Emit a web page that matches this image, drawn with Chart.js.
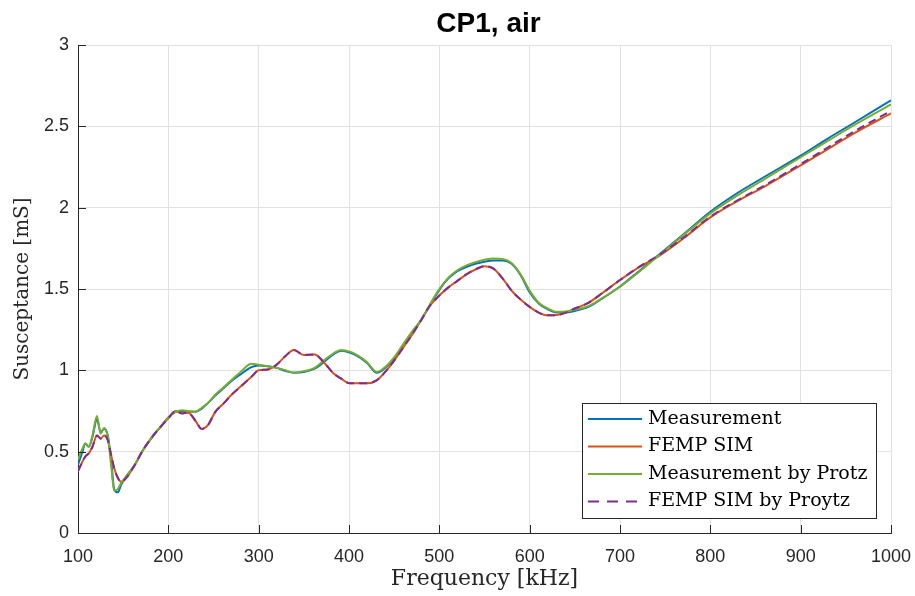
<!DOCTYPE html>
<html>
<head>
<meta charset="utf-8">
<title>CP1, air</title>
<script src="https://cdn.jsdelivr.net/npm/chart.js@4.4.1/dist/chart.umd.min.js"></script>
<style>
  html, body { margin: 0; padding: 0; background: #fff; }
  #wrap { width: 915px; height: 596px; }
</style>
</head>
<body>
<div id="wrap"><canvas id="cp1Chart" width="915" height="596"></canvas></div>
<script>
// frequency grid in kHz, shared by all four curves
const freqKHz = [100, 105, 108, 112, 116, 121, 125, 129, 133, 137,
  140, 144, 148, 155, 163, 172, 182, 191, 200, 208,
  215, 222, 230, 237, 244, 252, 260, 270, 280, 292,
  300, 310, 320, 330, 339, 350, 362, 372, 383, 391,
  401, 410, 420, 431, 440, 450, 460, 470, 480, 490,
  500, 510, 520, 530, 540, 550, 560, 570, 580, 590,
  600, 610, 620, 630, 640, 650, 665, 680, 700, 720,
  745, 770, 800, 830, 860, 900, 930, 960, 1000];

// susceptance in mS
const measurement = [0.42, 0.50, 0.55, 0.53, 0.59, 0.70, 0.62, 0.64, 0.60, 0.43,
  0.27, 0.25, 0.30, 0.36, 0.42, 0.51, 0.59, 0.65, 0.71, 0.745,
  0.75, 0.745, 0.745, 0.765, 0.80, 0.845, 0.885, 0.935, 0.975, 1.02,
  1.03, 1.025, 1.015, 0.995, 0.985, 0.99, 1.01, 1.05, 1.10, 1.12,
  1.11, 1.085, 1.045, 0.985, 1.015, 1.075, 1.155, 1.235, 1.31, 1.405,
  1.495, 1.565, 1.61, 1.635, 1.655, 1.668, 1.675, 1.675, 1.655, 1.585,
  1.48, 1.41, 1.375, 1.355, 1.355, 1.365, 1.39, 1.44, 1.515, 1.605,
  1.72, 1.835, 1.975, 2.09, 2.19, 2.32, 2.425, 2.525, 2.66];

const femSim = [0.38, 0.44, 0.47, 0.49, 0.53, 0.60, 0.58, 0.60, 0.57, 0.47,
  0.40, 0.34, 0.315, 0.35, 0.42, 0.51, 0.59, 0.65, 0.705, 0.75,
  0.735, 0.74, 0.69, 0.64, 0.665, 0.745, 0.79, 0.85, 0.90, 0.96,
  1.00, 1.005, 1.035, 1.09, 1.125, 1.095, 1.098, 1.05, 0.98, 0.95,
  0.92, 0.92, 0.92, 0.94, 0.99, 1.06, 1.14, 1.22, 1.31, 1.40,
  1.46, 1.51, 1.55, 1.59, 1.62, 1.64, 1.625, 1.565, 1.49, 1.435,
  1.39, 1.355, 1.338, 1.34, 1.355, 1.38, 1.415, 1.473, 1.555, 1.63,
  1.71, 1.81, 1.94, 2.04, 2.13, 2.26, 2.36, 2.46, 2.58];

const protzMeasurement = [0.45, 0.52, 0.55, 0.53, 0.60, 0.72, 0.61, 0.645, 0.59, 0.40,
  0.26, 0.27, 0.31, 0.36, 0.42, 0.51, 0.59, 0.65, 0.71, 0.745,
  0.755, 0.75, 0.745, 0.77, 0.80, 0.85, 0.89, 0.94, 0.99, 1.04,
  1.035, 1.025, 1.015, 1.00, 0.985, 0.995, 1.015, 1.06, 1.105, 1.125,
  1.115, 1.09, 1.05, 0.99, 1.02, 1.08, 1.16, 1.24, 1.31, 1.41,
  1.50, 1.57, 1.615, 1.645, 1.665, 1.68, 1.688, 1.685, 1.66, 1.59,
  1.49, 1.415, 1.38, 1.36, 1.362, 1.372, 1.395, 1.443, 1.514, 1.60,
  1.715, 1.83, 1.965, 2.075, 2.175, 2.31, 2.41, 2.51, 2.635];

const protzSim = [0.38, 0.44, 0.47, 0.49, 0.53, 0.60, 0.58, 0.60, 0.57, 0.47,
  0.40, 0.34, 0.315, 0.35, 0.42, 0.51, 0.59, 0.65, 0.705, 0.75,
  0.735, 0.74, 0.69, 0.64, 0.665, 0.745, 0.79, 0.85, 0.90, 0.96,
  1.00, 1.005, 1.035, 1.09, 1.125, 1.095, 1.098, 1.05, 0.98, 0.95,
  0.92, 0.92, 0.92, 0.94, 0.99, 1.06, 1.14, 1.22, 1.31, 1.40,
  1.46, 1.51, 1.55, 1.59, 1.62, 1.64, 1.625, 1.565, 1.49, 1.435,
  1.39, 1.355, 1.338, 1.34, 1.355, 1.38, 1.415, 1.473, 1.555, 1.632,
  1.715, 1.815, 1.945, 2.045, 2.137, 2.268, 2.37, 2.472, 2.595];

const seriesNames = ['Measurement', 'FEMP SIM', 'Measurement by Protz', 'FEMP SIM by Proytz'];

const AXIS_COLOR = '#262626';
const GRID_COLOR = '#e1e1e1';
const SERIF = '"DejaVu Serif", "Liberation Serif", serif';
const SANS = '"Liberation Sans", Arial, Helvetica, sans-serif';

function toPoints(values) {
  return values.map((v, i) => ({ x: freqKHz[i], y: v }));
}

// plain numbers: "1000", "2.5", "3"
function plainTick(value) {
  return String(Math.round(value * 100) / 100);
}

// short tick marks pointing into the plot, left and bottom axes only
const inwardTicks = {
  id: 'inwardTicks',
  afterDatasetsDraw(chart) {
    const { ctx, chartArea: a, scales: { x, y } } = chart;
    ctx.save();
    ctx.strokeStyle = AXIS_COLOR;
    ctx.lineWidth = 1;
    ctx.beginPath();
    x.ticks.forEach(t => {
      const px = Math.round(x.getPixelForValue(t.value)) + 0.5;
      ctx.moveTo(px, a.bottom);
      ctx.lineTo(px, a.bottom - 8);
    });
    y.ticks.forEach(t => {
      const py = Math.round(y.getPixelForValue(t.value)) + 0.5;
      ctx.moveTo(a.left, py);
      ctx.lineTo(a.left + 8, py);
    });
    ctx.stroke();
    ctx.restore();
  }
};

// boxed legend in the lower right corner of the axes
const boxLegend = {
  id: 'boxLegend',
  afterDraw(chart, args, opts) {
    const { ctx, chartArea: a } = chart;
    const w = 294, h = 115, rowH = 27.5;
    const left = a.right - 15 - w, top = a.bottom - 15 - h;
    ctx.save();
    ctx.fillStyle = '#fff';
    ctx.fillRect(left, top, w, h);
    ctx.strokeStyle = AXIS_COLOR;
    ctx.lineWidth = 1;
    ctx.strokeRect(Math.round(left) + 0.5, Math.round(top) + 0.5, w, h);
    ctx.font = '19px ' + SERIF;
    ctx.textBaseline = 'middle';
    chart.data.datasets.forEach((ds, i) => {
      const cy = top + 16 + i * rowH;
      ctx.strokeStyle = ds.borderColor;
      ctx.lineWidth = ds.borderWidth;
      ctx.setLineDash(ds.borderDash && ds.borderDash.length ? opts.dash : []);
      ctx.beginPath();
      ctx.moveTo(left + 6, cy);
      ctx.lineTo(left + 60, cy);
      ctx.stroke();
      ctx.setLineDash([]);
      ctx.fillStyle = '#000';
      ctx.fillText(ds.label, left + 66, cy);
    });
    ctx.restore();
  }
};

// bold title centred over the axes
const axesTitle = {
  id: 'axesTitle',
  afterDraw(chart, args, opts) {
    const { ctx, chartArea: a } = chart;
    ctx.save();
    ctx.font = 'bold 28px ' + SANS;
    ctx.fillStyle = '#000';
    ctx.textAlign = 'center';
    ctx.textBaseline = 'alphabetic';
    ctx.fillText(opts.text, (a.left + a.right) / 2 + 4, 32);
    ctx.restore();
  }
};

const ctx = document.getElementById('cp1Chart').getContext('2d');
const chartInstance = new Chart(ctx, {
  type: 'line',
  data: {
    datasets: [
      { label: seriesNames[0], data: toPoints(measurement), borderColor: '#0072BD', borderWidth: 2, order: 4 },
      { label: seriesNames[1], data: toPoints(femSim), borderColor: '#D95319', borderWidth: 2, order: 3 },
      { label: seriesNames[2], data: toPoints(protzMeasurement), borderColor: '#77AC30', borderWidth: 2, order: 2 },
      { label: seriesNames[3], data: toPoints(protzSim), borderColor: '#7E2F8E', borderWidth: 2, borderDash: [8, 5], order: 1 }
    ]
  },
  options: {
    responsive: false,
    animation: false,
    parsing: false,
    layout: { padding: { top: 45, right: 24, left: 0, bottom: 0 } },
    elements: {
      point: { radius: 0, hoverRadius: 0 },
      line: { cubicInterpolationMode: 'monotone', fill: false }
    },
    scales: {
      x: {
        type: 'linear',
        min: 100,
        max: 1000,
        ticks: { stepSize: 100, color: AXIS_COLOR, font: { family: SANS, size: 18 }, padding: 13, maxRotation: 0, callback: plainTick },
        grid: { color: GRID_COLOR, drawTicks: false },
        border: { color: AXIS_COLOR, width: 1 },
        title: { display: true, text: 'Frequency [kHz]', color: AXIS_COLOR, font: { family: SERIF, size: 22 }, padding: { top: 0, bottom: 4 } },
        afterFit(scale) {
          scale.height = 63;
          // end labels may hang over the layout padding
          scale.paddingLeft = 0;
          scale.paddingRight = 0;
        }
      },
      y: {
        min: 0,
        max: 3,
        ticks: { stepSize: 0.5, color: AXIS_COLOR, font: { family: SANS, size: 18 }, padding: 9, callback: plainTick },
        grid: { color: GRID_COLOR, drawTicks: false },
        border: { color: AXIS_COLOR, width: 1 },
        title: { display: true, text: 'Susceptance [mS]', color: AXIS_COLOR, font: { family: SERIF, size: 20 }, padding: { top: 11, bottom: 0 } },
        afterFit(scale) {
          scale.width = 78;
          scale.paddingTop = 0;
          scale.paddingBottom = 0;
        }
      }
    },
    plugins: {
      legend: { display: false },
      tooltip: { enabled: false },
      axesTitle: { text: 'CP1, air' },
      boxLegend: { dash: [11, 8] }
    }
  },
  plugins: [inwardTicks, boxLegend, axesTitle]
});
</script>
</body>
</html>
